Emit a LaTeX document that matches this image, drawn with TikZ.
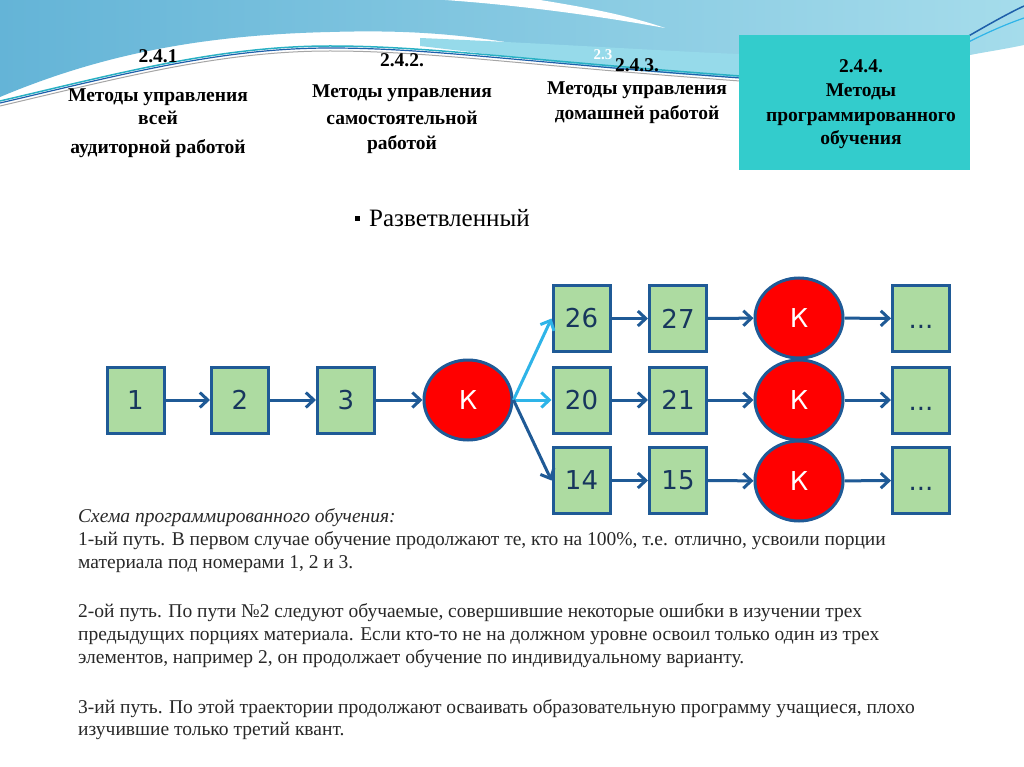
\documentclass[tikz,border=0pt]{standalone}
\usepackage{fontspec}
\setmainfont{Liberation Serif}
\newfontfamily\numfont{DejaVu Sans}
\usetikzlibrary{arrows.meta,shapes.geometric}
\definecolor{boxgreen}{RGB}{173,219,161}
\definecolor{boxblue}{RGB}{31,90,150}
\definecolor{numnavy}{RGB}{23,54,93}
\definecolor{lightarr}{RGB}{46,180,232}
\definecolor{tealbox}{RGB}{51,204,204}
\definecolor{bandl}{RGB}{100,180,215}
\definecolor{bandr}{RGB}{165,220,235}
\definecolor{stripc}{RGB}{150,218,234}
\definecolor{wavenavy}{RGB}{30,95,170}
\definecolor{waveteal}{RGB}{40,176,196}
\definecolor{bodygray}{RGB}{40,40,40}
\tikzset{
  stepbox/.style={draw=boxblue, line width=3pt, fill=boxgreen, minimum width=57pt, minimum height=66pt, inner sep=0pt, font=\numfont\fontsize{26}{26}\selectfont, text=numnavy},
  ctrl/.style={ellipse, draw=boxblue, line width=3pt, fill=red, minimum width=88pt, minimum height=80pt, inner sep=0pt, font=\numfont\fontsize{26}{26}\selectfont, text=white},
  darr/.style={draw=boxblue, line width=3pt, -{Straight Barb[length=8pt,width=15pt]}},
  larr/.style={draw=lightarr, line width=3pt, -{Straight Barb[length=8pt,width=15pt]}},
  head/.style={font=\bfseries\fontsize{19.5}{19.5}\selectfont, anchor=base, inner sep=0pt},
  body/.style={font=\fontsize{19.5}{19.5}\selectfont, text=bodygray, anchor=base west, inner sep=0pt}
}
\newcommand{\mydots}{\raisebox{-10pt}[0pt][0pt]{...}}
\begin{document}
\begin{tikzpicture}[x=1pt,y=-1pt]
\useasboundingbox (0,0) rectangle (1024,767);
\fill[white] (0,0) rectangle (1024,767);
% top wave band
\shade[left color=bandl, right color=bandr] (0,0) -- (1024,0) -- (1024,45) .. controls (1000,50) and (985,52) .. (970,55) -- (740,55) .. controls (650,52) and (560,45) .. (512,43) .. controls (450,33) and (400,30) .. (330,32) .. controls (200,35) and (100,55) .. (0,97) -- cycle;
\fill[stripc] (420,38) .. controls (560,44) and (680,52) .. (740,54) -- (740,78) .. controls (620,72) and (540,60) .. (420,46) -- cycle;
\fill[white] (445,0) -- (540,0) .. controls (590,8) and (630,16) .. (665,28) .. controls (610,18) and (530,6) .. (445,0) -- cycle;
\draw[gray!70, line width=1pt] (0,106) .. controls (120,78) and (220,51) .. (330,51) .. controls (430,51) and (520,65) .. (740,81);
\draw[waveteal, line width=1.5pt] (0,101) .. controls (120,73) and (220,46) .. (330,46) .. controls (430,46) and (520,60) .. (740,76);
\draw[wavenavy, line width=1.2pt] (0,103) .. controls (120,75) and (220,48) .. (330,48) .. controls (430,48) and (520,62) .. (740,78);
\draw[wavenavy, line width=1.5pt] (905,72) .. controls (950,48) and (990,22) .. (1024,6);
\draw[lightarr, line width=1.2pt] (925,66) .. controls (960,45) and (995,28) .. (1024,18);
\node[font=\bfseries\fontsize{15}{15}\selectfont, text=white, anchor=base, inner sep=0pt] (ghost) at (603,60) {2.3};
% header 4 box
\fill[tealbox] (739,35) rectangle (970,170);
% headers
\node[head] (h1a) at (158,63) {2.4.1};
\node[head] (h1b) at (158,102) {Методы управления};
\node[head] (h1c) at (158,125) {всей};
\node[head] (h1d) at (158,154) {аудиторной работой};
\node[head] (h2a) at (402,67) {2.4.2.};
\node[head] (h2b) at (402,98) {Методы управления};
\node[head] (h2c) at (402,125) {самостоятельной};
\node[head] (h2d) at (402,150) {работой};
\node[head] (h3a) at (637,72) {2.4.3.};
\node[head] (h3b) at (637,95) {Методы управления};
\node[head] (h3c) at (637,120) {домашней работой};
\node[head] (h4a) at (861,73) {2.4.4.};
\node[head] (h4b) at (861,97) {Методы};
\node[head] (h4c) at (861,122) {программированного};
\node[head] (h4d) at (861,145) {обучения};
% bullet
\fill[black] (355,216) rectangle (360,221);
\node[font=\fontsize{25}{25}\selectfont, anchor=base west, inner sep=0pt] (razv) at (369,226) {Разветвленный};
% diagram
\node[stepbox] (n1) at (135.5,400) {1};
\node[stepbox] (n2) at (240,400) {2};
\node[stepbox] (n3) at (346,400) {3};
\node[ctrl] (k0) at (468,400) {К};
\node[stepbox] (n26) at (581.5,318.5) {26};
\node[stepbox] (n20) at (581.5,400) {20};
\node[stepbox] (n14) at (581.5,480.5) {14};
\node[stepbox] (n27) at (678,318.5) {27};
\node[stepbox] (n21) at (678,400) {21};
\node[stepbox] (n15) at (678,480.5) {15};
\node[ctrl] (k1) at (799,318) {К};
\node[ctrl] (k2) at (799,400) {К};
\node[ctrl] (k3) at (799,481) {К};
\node[stepbox] (d1) at (921,318.5) {\mydots};
\node[stepbox] (d2) at (921,400) {\mydots};
\node[stepbox] (d3) at (921,480.5) {\mydots};
\draw[darr] (n1) -- (n2);
\draw[darr] (n2) -- (n3);
\draw[darr] (n3) -- (k0);
\draw[larr] (k0.east) -- (n26.west);
\draw[larr] (k0.east) -- (n20.west);
\draw[darr] (k0.east) -- (n14.west);
\draw[darr] (n26) -- (n27);
\draw[darr] (n20) -- (n21);
\draw[darr] (n14) -- (n15);
\draw[darr] (n27) -- (k1);
\draw[darr] (n21) -- (k2);
\draw[darr] (n15) -- (k3);
\draw[darr] (k1) -- (d1);
\draw[darr] (k2) -- (d2);
\draw[darr] (k3) -- (d3);
% body text
\node[body, font=\itshape\fontsize{19.5}{19.5}\selectfont] (t0) at (78,522) {Схема программированного обучения:};
\node[body] (t1) at (78,545) {1-ый путь. В первом случае обучение продолжают те, кто на 100\%, т.е. отлично, усвоили порции};
\node[body] (t2) at (78,568) {материала под номерами 1, 2 и 3.};
\node[body] (t3) at (78,617) {2-ой путь. По пути №2 следуют обучаемые, совершившие некоторые ошибки в изучении трех};
\node[body] (t4) at (78,640) {предыдущих порциях материала. Если кто-то не на должном уровне освоил только один из трех};
\node[body] (t5) at (78,663) {элементов, например 2, он продолжает обучение по индивидуальному варианту.};
\node[body] (t6) at (78,713) {3-ий путь. По этой траектории продолжают осваивать образовательную программу учащиеся, плохо};
\node[body] (t7) at (78,735) {изучившие только третий квант.};
\end{tikzpicture}
\end{document}
